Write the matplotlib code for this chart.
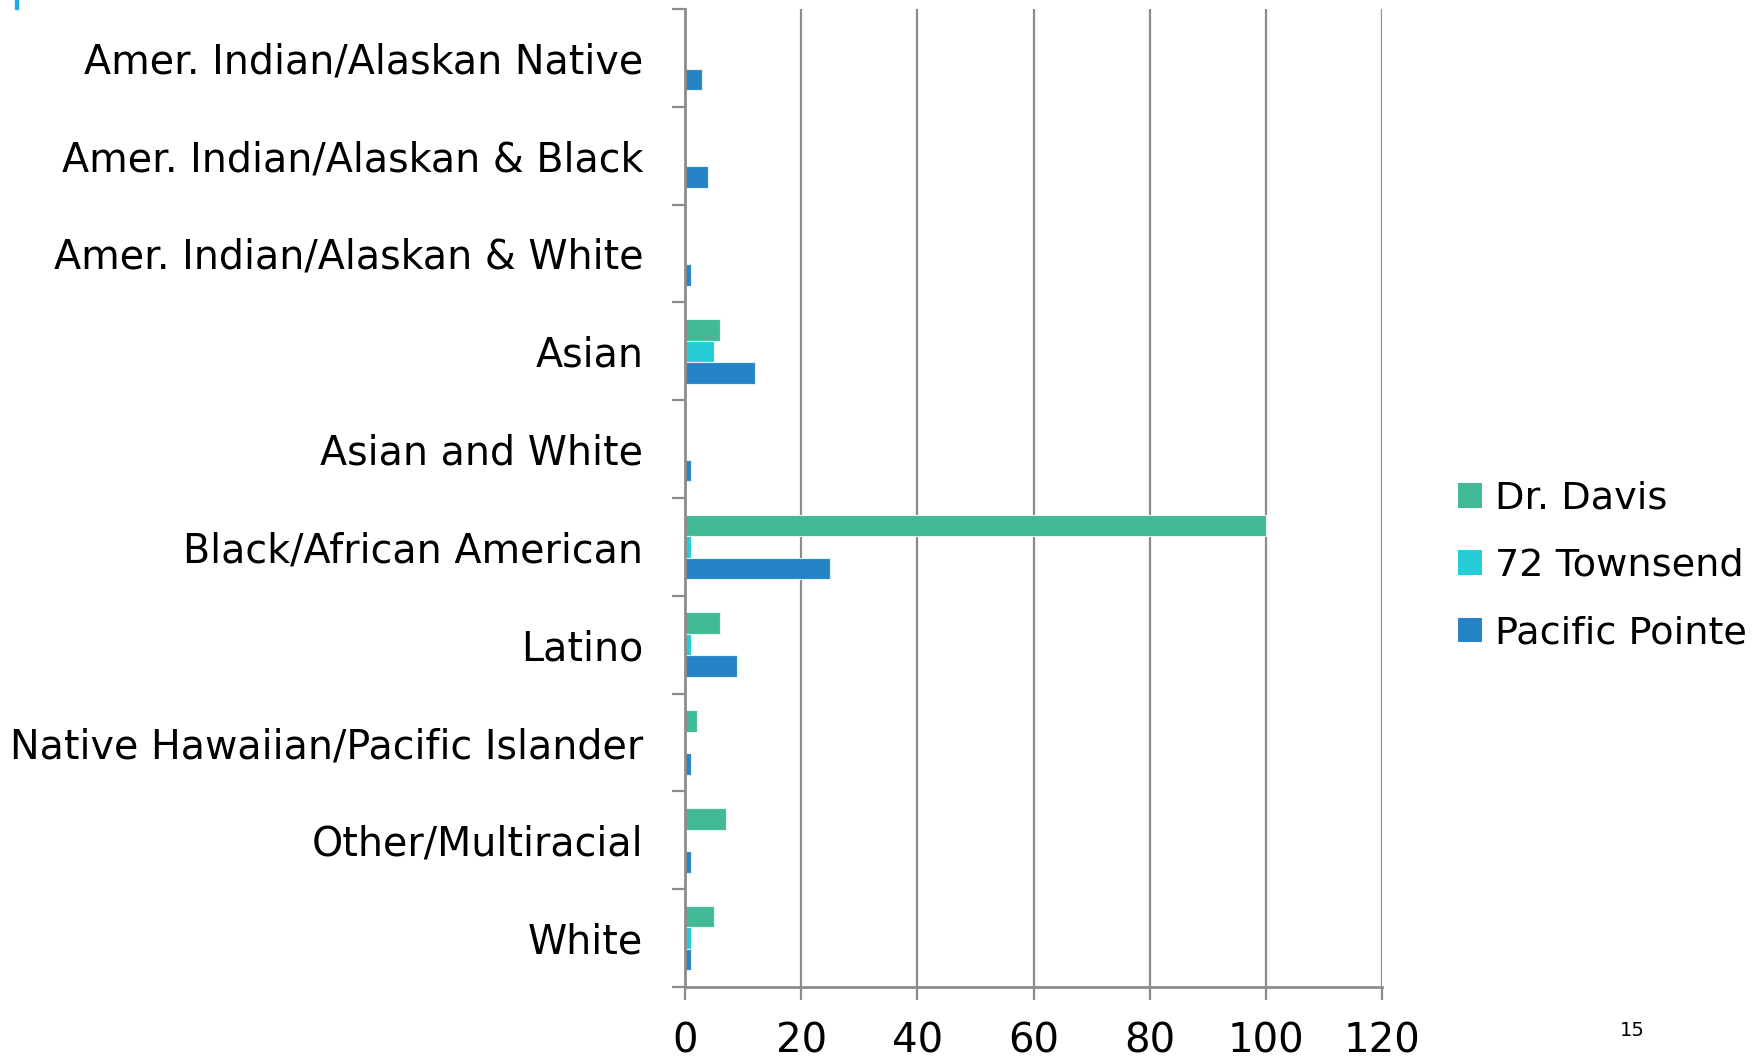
import matplotlib
matplotlib.use('Agg')
import matplotlib.pyplot as plt
from matplotlib.patches import Patch, Rectangle

categories = ['Amer. Indian/Alaskan Native', 'Amer. Indian/Alaskan & Black',
              'Amer. Indian/Alaskan & White', 'Asian', 'Asian and White',
              'Black/African American', 'Latino', 'Native Hawaiian/Pacific Islander',
              'Other/Multiracial', 'White']
series_names = ['Dr. Davis', '72 Townsend', 'Pacific Pointe']
davis = [0, 0, 0, 6, 0, 100, 6, 2, 7, 5]
townsend = [0, 0, 0, 5, 0, 1, 1, 0, 0, 1]
pacific = [3, 4, 1, 12, 1, 25, 9, 1, 1, 1]
colors = ['#43BA97', '#26CDD6', '#2683C6']
x_ticks = [0, 20, 40, 60, 80, 100, 120]

plt.rcParams['font.family'] = ['DejaVu Sans']
grey = '#8C8C8C'

fig = plt.figure(figsize=(17.65, 10.58), dpi=100)
ax = fig.add_axes([685 / 1765, 1 - 987 / 1058, 697 / 1765, 978 / 1058])

h = 0.22
pos = list(range(len(categories)))
for k, vals in enumerate([davis, townsend, pacific]):
    off = (k - 1) * h
    ax.barh([p + off for p in pos], vals, height=h, color=colors[k],
            edgecolor='#E6F4F0', linewidth=0.8, zorder=3)

ax.set_xlim(0, 120)
ax.set_ylim(len(categories) - 0.5, -0.5)
ax.set_xticks(x_ticks)
ax.set_xticklabels([str(t) for t in x_ticks], fontsize=29)
ax.set_yticks(pos)
ax.set_yticklabels(categories, fontsize=28.5)
ax.set_yticks([p - 0.5 for p in range(len(categories) + 1)], minor=True)

ax.tick_params(axis='y', which='major', length=0, pad=30)
ax.tick_params(axis='y', which='minor', length=9.5, width=1.6, color=grey)
ax.tick_params(axis='x', which='major', length=9.5, width=1.6, color=grey, pad=15)

ax.grid(axis='x', color=grey, linewidth=1.6, zorder=0)
for s in ['top', 'right']:
    ax.spines[s].set_visible(False)
for s in ['left', 'bottom']:
    ax.spines[s].set_color(grey)
    ax.spines[s].set_linewidth(2)
    ax.spines[s].set_zorder(4)

handles = [Patch(facecolor=c, edgecolor='none') for c in colors]
fig.legend(handles, series_names, loc='center left',
           bbox_to_anchor=(1458 / 1765, 1 - 566 / 1058), frameon=False,
           fontsize=27.5, handlelength=0.62, handleheight=0.62,
           handletextpad=0.35, labelspacing=0.82, borderpad=0, borderaxespad=0)

fig.text(1632 / 1765, 1 - 1030 / 1058, '15', fontsize=14, ha='center', va='center',
         family=['Liberation Sans Narrow', 'DejaVu Sans'])
fig.patches.append(Rectangle((15 / 1765, 1 - 9 / 1058), 3 / 1765, 9 / 1058,
                             transform=fig.transFigure, color='#1CADE4'))

fig.savefig('out.png', dpi=100)
